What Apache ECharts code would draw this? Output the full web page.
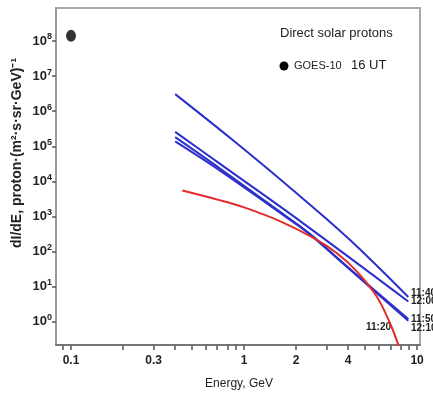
<!DOCTYPE html>
<html>
<head>
<meta charset="utf-8">
<script src="https://cdn.jsdelivr.net/npm/echarts@6/dist/echarts.min.js"></script>
<style>html,body{margin:0;padding:0;background:#fff}#c{width:433px;height:394px}</style>
</head>
<body>
<div id="c"></div>
<script>
// ---- data (energy in GeV, flux dI/dE) ----
const goesEnergy = [0.1];
const goesFlux = [1.4e8];

const energy1140 = [0.40, 0.85, 1.92, 4.0, 8.9];
const flux1140   = [3.06e6, 1.58e5, 5.6e3, 240, 5.1];

const energy1200 = [0.40, 0.73, 2.11, 8.9];
const flux1200   = [2.57e5, 3.1e4, 741, 3.8];

const energy1150 = [0.40, 0.73, 2.11, 2.52, 4.0, 8.9];
const flux1150   = [1.82e5, 2.29e4, 525, 263, 35.5, 1.2];

const energy1210 = [0.40, 0.73, 2.11, 2.52, 4.0, 8.9];
const flux1210   = [1.38e5, 2.0e4, 501, 251, 33.9, 1.07];

const energy1120 = [0.44, 0.73, 1.0, 1.61, 2.52, 3.43, 4.48, 5.85, 6.98, 7.8, 8.2];
const flux1120   = [5.5e3, 2.88e3, 1.82e3, 741, 245, 91.2, 27.5, 5.25, 0.91, 0.22, 0.1];

const xTickLabels = [0.1, 0.3, 1, 2, 4, 10];
const xTickMarks = [0.09, 0.1, 0.2, 0.3, 0.4, 0.5, 0.6, 0.7, 0.8, 0.9, 1, 2, 3, 4, 5, 6, 7, 8, 9, 10];
const yDecades = [0, 1, 2, 3, 4, 5, 6, 7, 8];

const L = Math.log10;
const pts = (e, f) => e.map((x, i) => [L(x), L(f[i])]);

const BLUE = '#2c2fcc';
const RED = '#e32b2b';
const FONT = 'Liberation Sans, Arial, sans-serif';

const chart = echarts.init(document.getElementById('c'));
const lineS = (name, e, f, color) => ({
  name, type: 'line', data: pts(e, f), smooth: 0.35, showSymbol: false,
  lineStyle: { color, width: 2 }, z: 3
});

chart.setOption({
  animation: false,
  backgroundColor: '#fff',
  grid: { left: 56, top: 8, right: 13, bottom: 49, show: true, borderColor: '#a8a8a8', borderWidth: 2 },
  xAxis: {
    type: 'value', min: L(0.0819), max: L(10.4),
    axisLine: { show: true, onZero: false, lineStyle: { color: '#777', width: 2 } },
    axisTick: { show: true, length: 5, lineStyle: { color: '#555', width: 1.5 }, customValues: xTickMarks.map(L) },
    axisLabel: {
      customValues: xTickLabels.map(L), margin: 10,
      formatter: v => { const e = Math.pow(10, v); return e < 1 ? e.toFixed(1) : String(Math.round(e)); },
      color: '#222', fontSize: 12, fontWeight: 'bold', fontFamily: FONT
    },
    splitLine: { show: false }
  },
  yAxis: {
    type: 'value', min: -0.66, max: 8.94,
    axisLine: { show: true, onZero: false, lineStyle: { color: '#999', width: 2 } },
    axisTick: { show: true, length: 4, lineStyle: { color: '#555', width: 1.5 }, customValues: yDecades },
    axisLabel: {
      customValues: yDecades, margin: 4,
      formatter: v => '{b|10}{s|' + Math.round(v) + '}',
      rich: {
        b: { fontSize: 13, fontWeight: 'bold', color: '#222', fontFamily: FONT },
        s: { fontSize: 9, fontWeight: 'bold', color: '#222', fontFamily: FONT, padding: [0, 0, 8, 0] }
      }
    },
    splitLine: { show: false }
  },
  series: [
    lineS('11:40', energy1140, flux1140, BLUE),
    lineS('12:00', energy1200, flux1200, BLUE),
    lineS('11:50', energy1150, flux1150, BLUE),
    lineS('12:10', energy1210, flux1210, BLUE),
    lineS('11:20', energy1120, flux1120, RED),
    { name: 'GOES-10', type: 'scatter', data: pts(goesEnergy, goesFlux), symbol: 'circle', symbolSize: [10, 12],
      itemStyle: { color: '#000' }, z: 4 }
  ],
  graphic: [
    { type: 'text', x: 17, y: 153, rotation: Math.PI / 2,
      style: { text: 'dI/dE, proton·(m²·s·sr·GeV)⁻¹', fontSize: 14, fontWeight: 'bold', fontFamily: FONT,
               fill: '#222', textAlign: 'center', textVerticalAlign: 'middle', letterSpacing: 0.8 } },
    { type: 'text', x: 239, y: 384,
      style: { text: 'Energy, GeV', fontSize: 12, fontFamily: FONT, fill: '#222', textAlign: 'center', textVerticalAlign: 'middle' } },
    { type: 'text', x: 280, y: 33,
      style: { text: 'Direct solar protons', fontSize: 13, fontFamily: FONT, fill: '#222', textAlign: 'left', textVerticalAlign: 'middle' } },
    { type: 'circle', shape: { cx: 284, cy: 66, r: 4.5 }, style: { fill: '#000' } },
    { type: 'text', x: 294, y: 66,
      style: { text: 'GOES-10', fontSize: 11, fontFamily: FONT, fill: '#222', textAlign: 'left', textVerticalAlign: 'middle' } },
    { type: 'text', x: 351, y: 65,
      style: { text: '16 UT', fontSize: 13, fontFamily: FONT, fill: '#222', textAlign: 'left', textVerticalAlign: 'middle' } },
    { type: 'text', x: 411, y: 293, style: { text: '11:40', fontSize: 10, fontWeight: 'bold', fontFamily: FONT, fill: '#222', textVerticalAlign: 'middle' } },
    { type: 'text', x: 411, y: 301, style: { text: '12:00', fontSize: 10, fontWeight: 'bold', fontFamily: FONT, fill: '#222', textVerticalAlign: 'middle' } },
    { type: 'text', x: 411, y: 319, style: { text: '11:50', fontSize: 10, fontWeight: 'bold', fontFamily: FONT, fill: '#222', textVerticalAlign: 'middle' } },
    { type: 'text', x: 411, y: 328, style: { text: '12:10', fontSize: 10, fontWeight: 'bold', fontFamily: FONT, fill: '#222', textVerticalAlign: 'middle' } },
    { type: 'text', x: 366, y: 327, style: { text: '11:20', fontSize: 10, fontWeight: 'bold', fontFamily: FONT, fill: '#222', textVerticalAlign: 'middle' } }
  ]
});
</script>
</body>
</html>
